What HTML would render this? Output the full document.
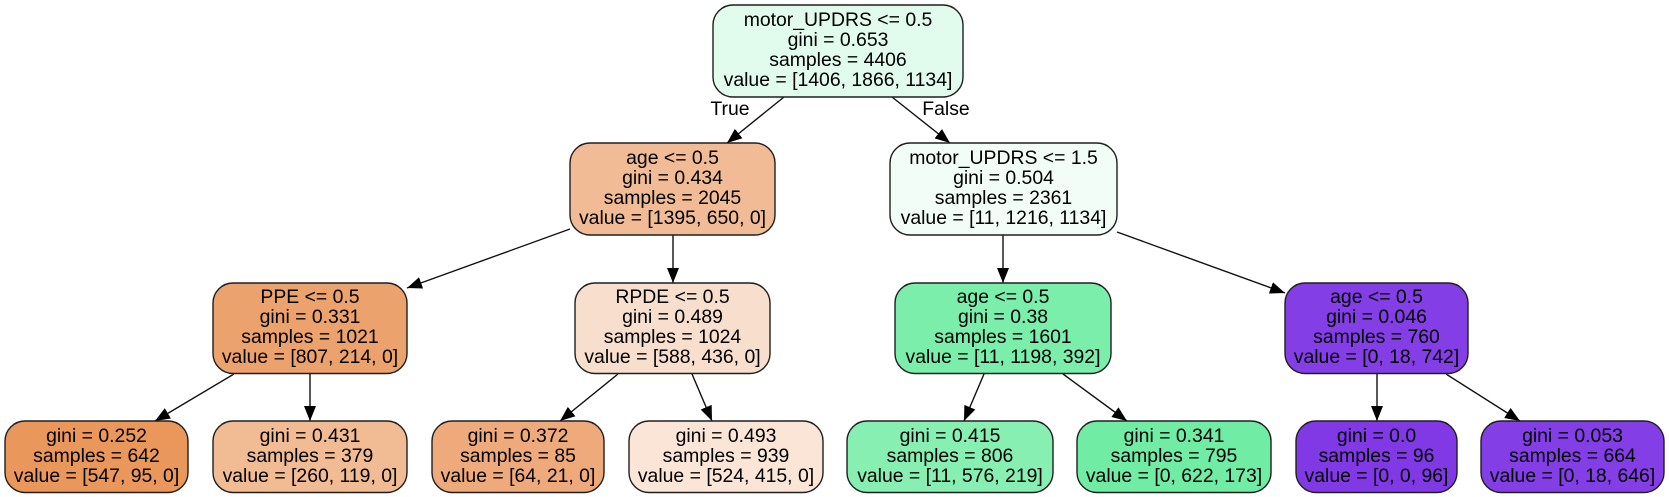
<!DOCTYPE html>
<html lang="en">
<head>
<meta charset="utf-8">
<title>Decision tree</title>
<style>
  html, body { margin: 0; padding: 0; background: #fff; width: 1669px; height: 497px; overflow: hidden; }
  svg { display: block; }
  text { font-family: "Liberation Sans", Arial, sans-serif; font-size: 19.4px; fill: #000; text-anchor: middle; }
  .box { stroke: #1f1f1f; stroke-width: 1.4; }
  .edge { stroke: #111; stroke-width: 1.4; fill: none; marker-end: url(#arrowhead); }
</style>
</head>
<body>
<svg xmlns="http://www.w3.org/2000/svg" width="1669" height="497" viewBox="0 0 1669 497">
  <defs>
    <marker id="arrowhead" markerUnits="userSpaceOnUse" markerWidth="16" markerHeight="14" refX="15" refY="6" orient="auto">
      <path d="M0,0 L15,6 L0,12 Z" fill="#000"/>
    </marker>
  </defs>

  <g>
    <line class="edge" x1="784" y1="97" x2="727" y2="143"/>
    <line class="edge" x1="892" y1="97" x2="950" y2="143"/>
    <line class="edge" x1="570" y1="229" x2="407" y2="288"/>
    <line class="edge" x1="673" y1="235" x2="673" y2="283"/>
    <line class="edge" x1="1003" y1="235" x2="1003" y2="283"/>
    <line class="edge" x1="1117" y1="232" x2="1285" y2="293"/>
    <line class="edge" x1="234" y1="374" x2="155" y2="421"/>
    <line class="edge" x1="310" y1="373" x2="310" y2="421"/>
    <line class="edge" x1="618" y1="374" x2="560" y2="421"/>
    <line class="edge" x1="692" y1="374" x2="712" y2="421"/>
    <line class="edge" x1="984" y1="374" x2="964" y2="421"/>
    <line class="edge" x1="1063" y1="374" x2="1127" y2="421"/>
    <line class="edge" x1="1377" y1="373" x2="1377" y2="421"/>
    <line class="edge" x1="1446" y1="374" x2="1520" y2="421"/>
  </g>

  <text x="730" y="115">True</text>
  <text x="946" y="115">False</text>

  <g>
    <rect class="box" x="713" y="5" width="250" height="92" rx="20" fill="#e1fbec"/>
    <text x="838" y="26">motor_UPDRS &lt;= 0.5</text>
    <text x="838" y="46">gini = 0.653</text>
    <text x="838" y="66">samples = 4406</text>
    <text x="838" y="86">value = [1406, 1866, 1134]</text>
  </g>

  <g>
    <rect class="box" x="570" y="143" width="205" height="92" rx="20" fill="#f1bc95"/>
    <text x="672.5" y="164">age &lt;= 0.5</text>
    <text x="672.5" y="184">gini = 0.434</text>
    <text x="672.5" y="204">samples = 2045</text>
    <text x="672.5" y="224">value = [1395, 650, 0]</text>
  </g>

  <g>
    <rect class="box" x="890" y="143" width="227" height="92" rx="20" fill="#f2fdf7"/>
    <text x="1003.5" y="164">motor_UPDRS &lt;= 1.5</text>
    <text x="1003.5" y="184">gini = 0.504</text>
    <text x="1003.5" y="204">samples = 2361</text>
    <text x="1003.5" y="224">value = [11, 1216, 1134]</text>
  </g>

  <g>
    <rect class="box" x="213" y="283" width="194" height="90.5" rx="20" fill="#eca26d"/>
    <text x="310" y="303">PPE &lt;= 0.5</text>
    <text x="310" y="323">gini = 0.331</text>
    <text x="310" y="343">samples = 1021</text>
    <text x="310" y="363">value = [807, 214, 0]</text>
  </g>

  <g>
    <rect class="box" x="575" y="283" width="195" height="90.5" rx="20" fill="#f8decc"/>
    <text x="672.5" y="303">RPDE &lt;= 0.5</text>
    <text x="672.5" y="323">gini = 0.489</text>
    <text x="672.5" y="343">samples = 1024</text>
    <text x="672.5" y="363">value = [588, 436, 0]</text>
  </g>

  <g>
    <rect class="box" x="895" y="283" width="216" height="90.5" rx="20" fill="#7beeab"/>
    <text x="1003" y="303">age &lt;= 0.5</text>
    <text x="1003" y="323">gini = 0.38</text>
    <text x="1003" y="343">samples = 1601</text>
    <text x="1003" y="363">value = [11, 1198, 392]</text>
  </g>

  <g>
    <rect class="box" x="1285" y="283" width="183" height="90.5" rx="20" fill="#843ee6"/>
    <text x="1376.5" y="303">age &lt;= 0.5</text>
    <text x="1376.5" y="323">gini = 0.046</text>
    <text x="1376.5" y="343">samples = 760</text>
    <text x="1376.5" y="363">value = [0, 18, 742]</text>
  </g>

  <g>
    <rect class="box" x="5" y="421" width="183" height="71.5" rx="20" fill="#ea975b"/>
    <text x="96.5" y="442">gini = 0.252</text>
    <text x="96.5" y="462">samples = 642</text>
    <text x="96.5" y="482">value = [547, 95, 0]</text>
  </g>

  <g>
    <rect class="box" x="213" y="421" width="194" height="71.5" rx="20" fill="#f1bb94"/>
    <text x="310" y="442">gini = 0.431</text>
    <text x="310" y="462">samples = 379</text>
    <text x="310" y="482">value = [260, 119, 0]</text>
  </g>

  <g>
    <rect class="box" x="432" y="421" width="172" height="71.5" rx="20" fill="#eeaa7a"/>
    <text x="518" y="442">gini = 0.372</text>
    <text x="518" y="462">samples = 85</text>
    <text x="518" y="482">value = [64, 21, 0]</text>
  </g>

  <g>
    <rect class="box" x="629" y="421" width="194" height="71.5" rx="20" fill="#fae5d6"/>
    <text x="726" y="442">gini = 0.493</text>
    <text x="726" y="462">samples = 939</text>
    <text x="726" y="482">value = [524, 415, 0]</text>
  </g>

  <g>
    <rect class="box" x="847" y="421" width="206" height="71.5" rx="20" fill="#87efb2"/>
    <text x="950" y="442">gini = 0.415</text>
    <text x="950" y="462">samples = 806</text>
    <text x="950" y="482">value = [11, 576, 219]</text>
  </g>

  <g>
    <rect class="box" x="1077" y="421" width="194" height="71.5" rx="20" fill="#70eca4"/>
    <text x="1174" y="442">gini = 0.341</text>
    <text x="1174" y="462">samples = 795</text>
    <text x="1174" y="482">value = [0, 622, 173]</text>
  </g>

  <g>
    <rect class="box" x="1296" y="421" width="161" height="71.5" rx="20" fill="#8139e5"/>
    <text x="1376.5" y="442">gini = 0.0</text>
    <text x="1376.5" y="462">samples = 96</text>
    <text x="1376.5" y="482">value = [0, 0, 96]</text>
  </g>

  <g>
    <rect class="box" x="1481" y="421" width="183" height="71.5" rx="20" fill="#843ee6"/>
    <text x="1572.5" y="442">gini = 0.053</text>
    <text x="1572.5" y="462">samples = 664</text>
    <text x="1572.5" y="482">value = [0, 18, 646]</text>
  </g>
</svg>
</body>
</html>
